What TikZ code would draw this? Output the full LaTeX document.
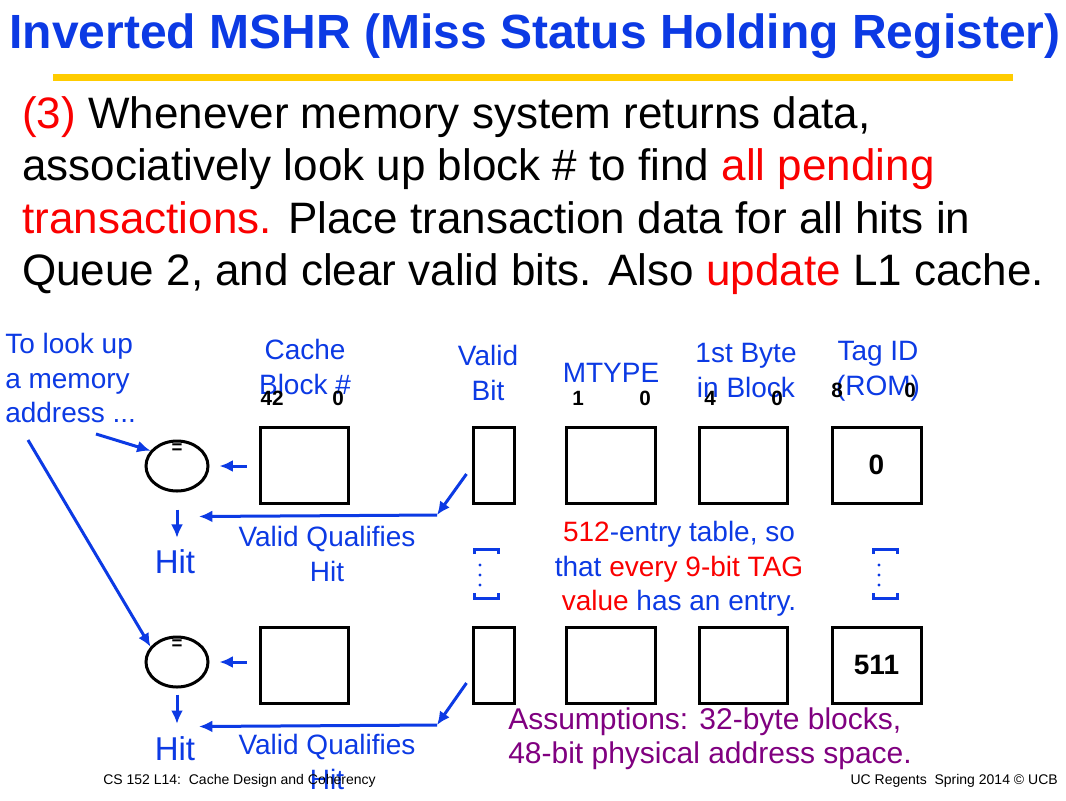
\documentclass[tikz,border=0pt]{standalone}
\usepackage{fontspec}
\setmainfont{Liberation Sans}
\usetikzlibrary{arrows.meta,calc,shapes.geometric}
\definecolor{slideblue}{RGB}{12,58,228}
\definecolor{slidered}{RGB}{250,0,0}
\definecolor{slidepurple}{RGB}{128,0,128}
\definecolor{slidegold}{RGB}{255,204,0}
\begin{document}
\begin{tikzpicture}[x=0.75pt,y=-0.75pt,
  lbl/.style={inner sep=0pt,text=slideblue,align=center,font=\fontsize{21}{25.9}\selectfont},
  cell/.style={draw,line width=2.25pt,inner sep=0pt,minimum height=57pt},
  bitnum/.style={inner sep=0pt,font=\fontsize{15.5}{15.5}\selectfont\bfseries},
  cmp/.style={draw,ellipse,line width=2.25pt,inner sep=0pt,minimum width=46.5pt,minimum height=37.5pt},
  sig/.style={draw=slideblue,line width=2.25pt,-{Latex[length=10pt,width=9pt]}},
  hit/.style={inner sep=0pt,text=slideblue,font=\fontsize{24.75}{24.75}\selectfont}]
\useasboundingbox[fill=white] (0,0) rectangle (1066,800);
% title
\node[anchor=base,inner sep=0pt,text=slideblue,font=\fontsize{36}{36}\selectfont\bfseries] (title) at (535,48)
  {Inverted MSHR (Miss Status Holding Register)};
\draw[slidegold,line width=5.25pt] (53,77.5) -- (1013,77.5);
\node[anchor=north west,inner sep=0pt,align=left,font=\fontsize{33}{39.4}\selectfont] (body) at (22,96)
  {{\color{slidered}(3)} Whenever memory system returns data,\\
   associatively look up block \# to find {\color{slidered}all pending}\\
   {\color{slidered}transactions.} Place transaction data for all hits in\\
   Queue 2, and clear valid bits. Also {\color{slidered}update} L1 cache.};
% column heads
\node[lbl,anchor=north west,align=left] (look) at (5,333) {To look up\\a memory\\address ...};
\node[lbl,anchor=north] (cbk) at (305,339) {Cache\\Block \#};
\node[lbl,anchor=north] (vbt) at (488,345) {Valid\\Bit};
\node[lbl,anchor=base] (mty) at (611,382) {MTYPE};
\node[lbl,anchor=north] (fbb) at (746,343) {1st Byte\\in Block};
\node[lbl,anchor=north] (tid) at (878,341) {Tag ID\\(ROM)};
\node[bitnum] (cbhi) at (272,398) {42};
\node[bitnum] (cblo) at (338,398) {0};
\node[bitnum] (mthi) at (578,398) {1};
\node[bitnum] (mtlo) at (645,398) {0};
\node[bitnum] (fbhi) at (710,398) {4};
\node[bitnum] (fblo) at (777,398) {0};
\node[bitnum] (tghi) at (837,390) {8};
\node[bitnum] (tglo) at (910,390) {0};
% table rows
\node[cell,minimum width=66pt] (cb1) at (304,465) {};
\node[cell,minimum width=30.75pt] (vb1) at (493.5,465) {};
\node[cell,minimum width=66.75pt] (mt1) at (610.5,465) {};
\node[cell,minimum width=66pt] (fb1) at (743,465) {};
\node[cell,minimum width=66.75pt,font=\fontsize{21}{21}\selectfont\bfseries] (tg1) at (876.5,465) {0};
\node[cell,minimum width=66pt] (cb2) at (304,665) {};
\node[cell,minimum width=30.75pt] (vb2) at (493.5,665) {};
\node[cell,minimum width=66.75pt] (mt2) at (610.5,665) {};
\node[cell,minimum width=66pt] (fb2) at (743,665) {};
\node[cell,minimum width=66.75pt,font=\fontsize{21}{21}\selectfont\bfseries] (tg2) at (876.5,665) {511};
% comparators
\node[cmp] (cmp1) at (177,466) {};
\node[cmp] (cmp2) at (177,662) {};
\node[inner sep=0pt,font=\fontsize{14}{14}\selectfont\bfseries] (eq1) at (177,449) {=};
\node[inner sep=0pt,font=\fontsize{14}{14}\selectfont\bfseries] (eq2) at (177,645) {=};
\node[hit,anchor=base] (hit1) at (175,573) {Hit};
\node[hit,anchor=base] (hit2) at (175,760) {Hit};
\node[lbl,anchor=north] (vq1) at (327,526) {Valid Qualifies\\Hit};
\node[lbl,anchor=north] (vq2) at (327,734) {Valid Qualifies\\Hit};
\node[lbl,anchor=north] (tbl) at (679,521)
  {{\color{slidered}512}-entry table, so\\
   that {\color{slidered}every 9-bit TAG}\\
   {\color{slidered}value} has an entry.};
\node[lbl,anchor=north west,align=left,text=slidepurple,font=\fontsize{22.5}{25.5}\selectfont] (asm) at (508,707)
  {Assumptions: 32-byte blocks,\\48-bit physical address space.};
% connectors
\coordinate (q1) at (96,434);
\coordinate (q2) at (28,440);
\coordinate (vk1) at (437,515);
\coordinate (vk2) at (437,725);
\draw[sig] (q1) -- (cmp1.150);
\draw[sig] (q2) -- (cmp2.150);
\draw[sig,shorten <=9pt,shorten >=7.5pt] (cmp1 -| cb1.west) -- (cmp1.east);
\draw[sig,shorten <=9pt,shorten >=7.5pt] (cmp2 -| cb2.west) -- (cmp2.east);
\draw[sig,shorten <=12.75pt,shorten >=8.25pt] (cmp1.south) -- (hit1.north -| cmp1.south);
\draw[sig,shorten <=4.5pt,shorten >=9pt] (cmp2.south) -- (hit2.north -| cmp2.south);
\draw[sig] ($(vb1.west)+(-5,9)$) -- (vk1);
\draw[sig] (vk1) -- ($(cmp1.south)+(22,24)$);
\draw[sig] ($(vb2.west)+(-5,18)$) -- (vk2);
\draw[sig] (vk2) -- ($(cmp2.south)+(22,38)$);
% elided rows
\foreach \bx in {474,873} {
  \draw[slideblue,line width=2.25pt] (\bx,554) -- (\bx,549) -- (\bx+24,549) -- (\bx+24,554);
  \draw[slideblue,line width=2.25pt] (\bx,593) -- (\bx,598) -- (\bx+24,598) -- (\bx+24,593);
  \foreach \dy in {565,575,585}
    \fill[slideblue] (\bx+6,\dy) circle (1.2pt);
}
% footer
\node[anchor=base west,inner sep=0pt,font=\fontsize{10.5}{10.5}\selectfont] (foot1) at (103,784)
  {CS 152 L14:\ \ Cache Design and Coherency};
\node[anchor=base east,inner sep=0pt,font=\fontsize{10.5}{10.5}\selectfont] (foot2) at (1058,784)
  {UC Regents\ \ Spring 2014 © UCB};
\end{tikzpicture}
\end{document}
